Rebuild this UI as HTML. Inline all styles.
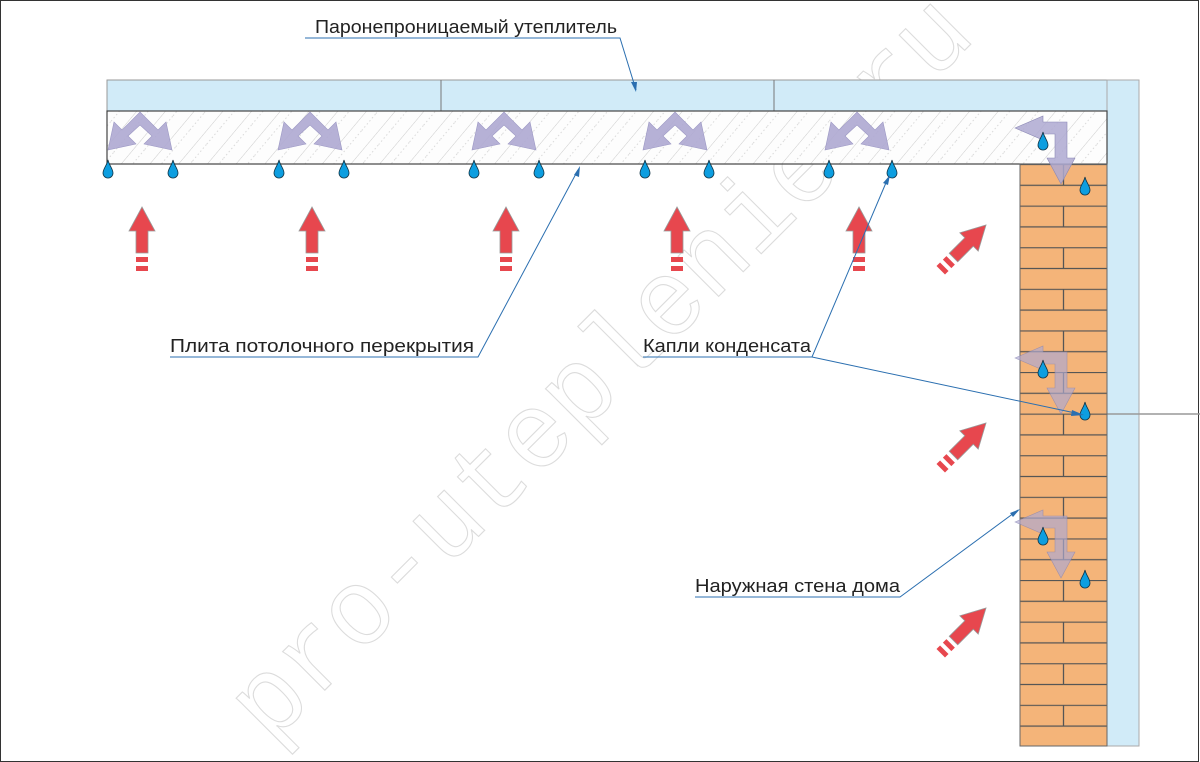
<!DOCTYPE html>
<html><head><meta charset="utf-8"><style>
html,body{margin:0;padding:0;background:#fff}
svg{display:block}
text{font-family:"Liberation Sans Narrow","Liberation Sans","DejaVu Sans Condensed",sans-serif}
</style></head><body>
<svg width="1200" height="762" viewBox="0 0 1200 762" xmlns="http://www.w3.org/2000/svg">
<defs>
<pattern id="hatch" patternUnits="userSpaceOnUse" width="22" height="22" patternTransform="rotate(40)">
<line x1="0" y1="0" x2="0" y2="22" stroke="#888" stroke-width="0.6"/>
<line x1="9" y1="0" x2="9" y2="22" stroke="#aaa" stroke-width="0.6" stroke-dasharray="1.5,2.5"/>
</pattern>
<pattern id="brick" patternUnits="userSpaceOnUse" x="1020" y="164" width="87" height="41.6">
<rect width="87" height="41.6" fill="#f4b479"/>
<line x1="0" y1="0.5" x2="87" y2="0.5" stroke="#555" stroke-width="1.3"/>
<line x1="0" y1="21.3" x2="87" y2="21.3" stroke="#555" stroke-width="1.3"/>
<line x1="43.5" y1="0" x2="43.5" y2="20.8" stroke="#555" stroke-width="1.3"/>
</pattern>
<g id="drop"><path d="M0,-10 C1,-5 5,-1 5,3 A5,5 0 0 1 -5,3 C-5,-1 -1,-5 0,-10Z" fill="#0d9ee0" stroke="#134" stroke-width="0.8"/></g>
<g id="up"><polygon points="0,0 13,24 6,24 6,46 -6,46 -6,24 -13,24" fill="#e7474e" stroke="#999" stroke-width="0.8"/>
<rect x="-6" y="50" width="12" height="5" fill="#e7474e"/><rect x="-6" y="59" width="12" height="5" fill="#e7474e"/></g>
<g id="chev" fill="#aea9d1" fill-opacity="0.9" stroke="#9c98c4" stroke-width="0.6">
<polygon points="-2,-40 16,-22 24,-30 30,-2 2,-8 10,-16 -2,-27 -14,-16 -6,-8 -34,-2 -28,-30 -20,-22"/>
</g>
<g id="bend" fill="#aea9d1" fill-opacity="0.85" stroke="#8b88b5" stroke-width="0.6">
<polygon points="-30,0 -2,-12 -2,-6 22,-6 22,30 30,30 16,56 2,30 10,30 10,6 -2,6 -2,12"/>
</g>
<g id="diag"><g transform="rotate(45)"><use href="#up"/></g></g>
</defs>
<rect x="0.5" y="0.5" width="1198" height="761" fill="#fff" stroke="#333"/>
<text x="0" y="0" transform="translate(270,745) rotate(-45)" font-size="108" fill="none" stroke="#dcdcdc" stroke-width="1.1" textLength="1000" lengthAdjust="spacingAndGlyphs" style="font-family:'Liberation Mono',monospace">pro-uteplenie.ru</text>
<rect x="107" y="80" width="1000" height="31" fill="#d1ebf8" stroke="#999" stroke-width="1"/>
<line x1="441" y1="80" x2="441" y2="111" stroke="#777"/>
<line x1="774" y1="80" x2="774" y2="111" stroke="#777"/>
<rect x="1107" y="80" width="32" height="666" fill="#d1ebf8" stroke="#aaa" stroke-width="1"/>
<line x1="1107" y1="414" x2="1200" y2="414" stroke="#999" stroke-width="1.5"/>
<rect x="107" y="111" width="1000" height="53" fill="#fdfdfd"/>
<rect x="107" y="111" width="1000" height="53" fill="url(#hatch)" opacity="0.7"/>
<rect x="107" y="111" width="1000" height="53" fill="none" stroke="#444" stroke-width="1.2"/>
<rect x="1020" y="164" width="87" height="582" fill="url(#brick)" stroke="#666" stroke-width="1"/>
<use href="#chev" x="142" y="152"/><use href="#chev" x="312" y="152"/><use href="#chev" x="506" y="152"/><use href="#chev" x="677" y="152"/><use href="#chev" x="859" y="152"/>
<use href="#bend" x="1045" y="128"/>
<use href="#bend" x="1045" y="358" style="opacity:0.8"/><use href="#bend" x="1045" y="522" style="opacity:0.8"/>
<use href="#drop" x="108" y="170"/><use href="#drop" x="173" y="170"/><use href="#drop" x="279" y="170"/><use href="#drop" x="344" y="170"/>
<use href="#drop" x="474" y="170"/><use href="#drop" x="539" y="170"/><use href="#drop" x="645" y="170"/><use href="#drop" x="709" y="170"/>
<use href="#drop" x="829" y="170"/><use href="#drop" x="892" y="170"/>
<use href="#drop" x="1043" y="142"/><use href="#drop" x="1085" y="187"/>
<use href="#drop" x="1043" y="370"/><use href="#drop" x="1085" y="412"/>
<use href="#drop" x="1043" y="537"/><use href="#drop" x="1085" y="580"/>
<use href="#up" x="142" y="207"/><use href="#up" x="312" y="207"/><use href="#up" x="506" y="207"/><use href="#up" x="677" y="207"/><use href="#up" x="859" y="207"/>
<use href="#diag" x="986" y="225"/><use href="#diag" x="986" y="423"/><use href="#diag" x="986" y="608"/>
<g stroke="#2b6fb0" stroke-width="1" fill="none">
<polyline points="305,38 620,38 636,90"/>
<polyline points="170,357 478,357 578,170"/>
<polyline points="643,357 812,357 888,178"/>
<polyline points="812,357 1080,414"/>
<polyline points="695,597 900,597 1018,510"/>
</g>
<g fill="#2b6fb0">
<polygon points="636,92 631,82 637,82"/><polygon points="580,166 574,175 579,177"/>
<polygon points="890,175 883,183 888,185"/><polygon points="1084,415 1072,410 1071,416"/>
<polygon points="1020,509 1010,513 1013,517"/>
</g>
<g font-size="18" fill="#222">
<text x="315" y="33" textLength="302" lengthAdjust="spacingAndGlyphs">Паронепроницаемый утеплитель</text>
<text x="170" y="352" textLength="304" lengthAdjust="spacingAndGlyphs">Плита потолочного перекрытия</text>
<text x="643" y="352" textLength="168" lengthAdjust="spacingAndGlyphs">Капли конденсата</text>
<text x="695" y="592" textLength="205" lengthAdjust="spacingAndGlyphs">Наружная стена дома</text>
</g>
</svg>
</body></html>
